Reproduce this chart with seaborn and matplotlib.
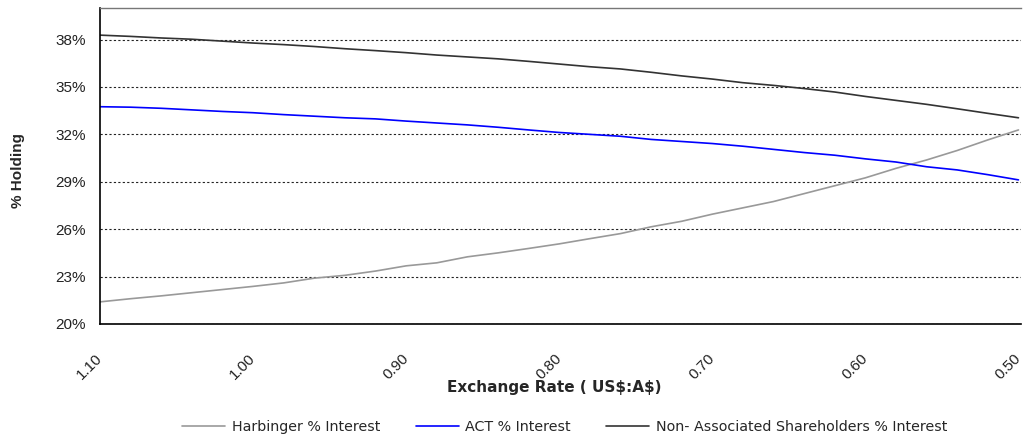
import numpy as np
import pandas as pd
import matplotlib
matplotlib.use("Agg")
import matplotlib.pyplot as plt
import seaborn as sns
from matplotlib import font_manager
from matplotlib.ticker import FuncFormatter

# exchange rate US$:A$, read at 0.02 steps
rates = [1.10, 1.08, 1.06, 1.04, 1.02, 1.00, 0.98, 0.96, 0.94, 0.92, 0.90,
         0.88, 0.86, 0.84, 0.82, 0.80, 0.78, 0.76, 0.74, 0.72, 0.70,
         0.68, 0.66, 0.64, 0.62, 0.60, 0.58, 0.56, 0.54, 0.52, 0.50]

harbinger = [21.40, 21.60, 21.78, 21.98, 22.18, 22.38, 22.60, 22.90, 23.08, 23.35, 23.68,
             23.87, 24.25, 24.50, 24.78, 25.07, 25.40, 25.72, 26.15, 26.50, 26.95,
             27.35, 27.75, 28.25, 28.75, 29.25, 29.85, 30.38, 30.98, 31.65, 32.28]

act = [33.75, 33.72, 33.65, 33.55, 33.45, 33.37, 33.25, 33.15, 33.05, 32.98, 32.84,
       32.72, 32.60, 32.45, 32.28, 32.12, 32.00, 31.88, 31.68, 31.55, 31.42,
       31.25, 31.05, 30.85, 30.68, 30.45, 30.25, 29.95, 29.75, 29.45, 29.12]

non_assoc = [38.28, 38.20, 38.10, 38.02, 37.90, 37.78, 37.68, 37.56, 37.42, 37.30, 37.17,
             37.02, 36.90, 36.78, 36.62, 36.45, 36.28, 36.14, 35.93, 35.70, 35.50,
             35.27, 35.10, 34.90, 34.68, 34.40, 34.15, 33.90, 33.62, 33.33, 33.05]

y_ticks = [20, 23, 26, 29, 32, 35, 38]

series_names = ["Harbinger % Interest", "ACT % Interest",
                "Non- Associated Shareholders % Interest"]
colors = ["#999999", "#0000ff", "#333333"]

df = pd.concat([
    pd.DataFrame({"rate": rates, "holding": vals, "series": name})
    for name, vals in zip(series_names, [harbinger, act, non_assoc])
])

sns.set_style("white")

# narrow font for tick labels if available
installed = {f.name for f in font_manager.fontManager.ttflist}
if "Liberation Sans Narrow" in installed:
    tick_font, tick_size = "Liberation Sans Narrow", 12.5
else:
    tick_font, tick_size = "Liberation Sans", 11

fig = plt.figure(figsize=(10.23, 4.42), dpi=100)
ax = fig.add_axes([0.0978, 0.267, 0.9, 0.715])

sns.lineplot(data=df, x="rate", y="holding", hue="series", hue_order=series_names,
             palette=colors, linewidth=1.2, ax=ax, legend=False)

ax.set_xlim(1.10, 0.4985)
ax.set_ylim(20, 40)
ax.set_yticks(y_ticks)
ax.yaxis.set_major_formatter(FuncFormatter(lambda v, p: f"{v:.0f}%"))
ax.grid(axis="y", color="#222222", linestyle=(0, (2, 2)), linewidth=0.8)
ax.set_axisbelow(True)

xt = np.round(np.arange(1.10, 0.499, -0.02), 2)
ax.set_xticks(xt)
ax.set_xticklabels([f"{v:.2f}" if round(v * 100) % 10 == 0 else "" for v in xt],
                   rotation=45, ha="right", va="center", rotation_mode="anchor",
                   family=tick_font, fontsize=tick_size, color="#222222")
for lab in ax.get_yticklabels():
    lab.set_family(tick_font)
    lab.set_fontsize(tick_size)
    lab.set_color("#222222")

ax.tick_params(axis="x", direction="out", length=4, width=1, pad=19, color="black")
ax.tick_params(axis="y", direction="out", length=4, width=1, pad=6, color="black")

for side in ["left", "bottom"]:
    ax.spines[side].set_color("black")
    ax.spines[side].set_linewidth(1.2)
ax.spines["top"].set_color("#777777")
ax.spines["top"].set_linewidth(1.0)
ax.spines["right"].set_visible(False)

ax.set_xlabel(r"Exchange Rate ( US\$:A\$)", fontsize=11, fontweight="bold",
              family="DejaVu Sans")
ax.xaxis.set_label_coords(0.493, -0.178)
ax.set_ylabel("% Holding", fontsize=11, fontweight="bold", family="Liberation Sans")
ax.yaxis.set_label_coords(-0.081, 0.487)

handles = [plt.Line2D([], [], color=c, linewidth=1.2) for c in colors]
fig.legend(handles, series_names, loc="center", bbox_to_anchor=(0.552, 0.034),
           ncol=3, frameon=False, handlelength=3.0, handletextpad=0.45,
           columnspacing=2.5, prop={"family": "DejaVu Sans", "size": 10.3})

fig.savefig("out.png", dpi=100)
